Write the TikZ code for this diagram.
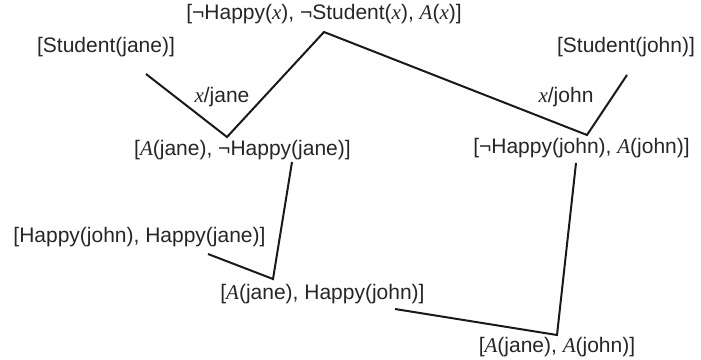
\documentclass[tikz,border=0pt]{standalone}
\usepackage{fontspec}
\setmainfont{Liberation Sans}
\newfontfamily\tmsfam{Liberation Serif}
\newcommand{\mv}[1]{{\tmsfam\itshape #1}}
\begin{document}
\begin{tikzpicture}[x=1pt,y=-1pt,
  lbl/.style={inner sep=0pt,anchor=center,font=\fontsize{21}{25}\selectfont,text=black!85},
  edge/.style={line width=2pt,line join=miter,black!90}]
\useasboundingbox (0,0) rectangle (701,359);
% nodes
\node[lbl] (top) at (324,14) {[¬Happy(\mv{x}), ¬Student(\mv{x}), \mv{A}(\mv{x})]};
\node[lbl] (sjane) at (106,47) {[Student(jane)]};
\node[lbl] (sjohn) at (626,47) {[Student(john)]};
\node[lbl] (ljane) at (222,97) {\mv{x}/jane};
\node[lbl] (ljohn) at (566,97) {\mv{x}/john};
\node[lbl] (ajane) at (242.5,150) {[\mv{A}(jane), ¬Happy(jane)]};
\node[lbl] (hjohn) at (581.5,148) {[¬Happy(john), \mv{A}(john)]};
\node[lbl] (hh) at (139.5,237) {[Happy(john), Happy(jane)]};
\node[lbl] (ah) at (322.5,294) {[\mv{A}(jane), Happy(john)]};
\node[lbl] (aa) at (557,347) {[\mv{A}(jane), \mv{A}(john)]};
% connector points
\coordinate (p1) at (146,74);
\coordinate (v1) at (227,137);
\coordinate (v0) at (324,32);
\coordinate (v2) at (587,135);
\coordinate (p2) at (627,75);
\coordinate (p3) at (292,162);
\coordinate (v3) at (273,279);
\coordinate (p4) at (208,254);
\coordinate (p5) at (576,163);
\coordinate (v4) at (557,335);
\coordinate (p6) at (395,309);
\draw[edge] (p1) -- (v1) -- (v0) -- (v2) -- (p2);
\draw[edge] (p3) -- (v3) -- (p4);
\draw[edge] (p5) -- (v4) -- (p6);
\end{tikzpicture}
\end{document}
